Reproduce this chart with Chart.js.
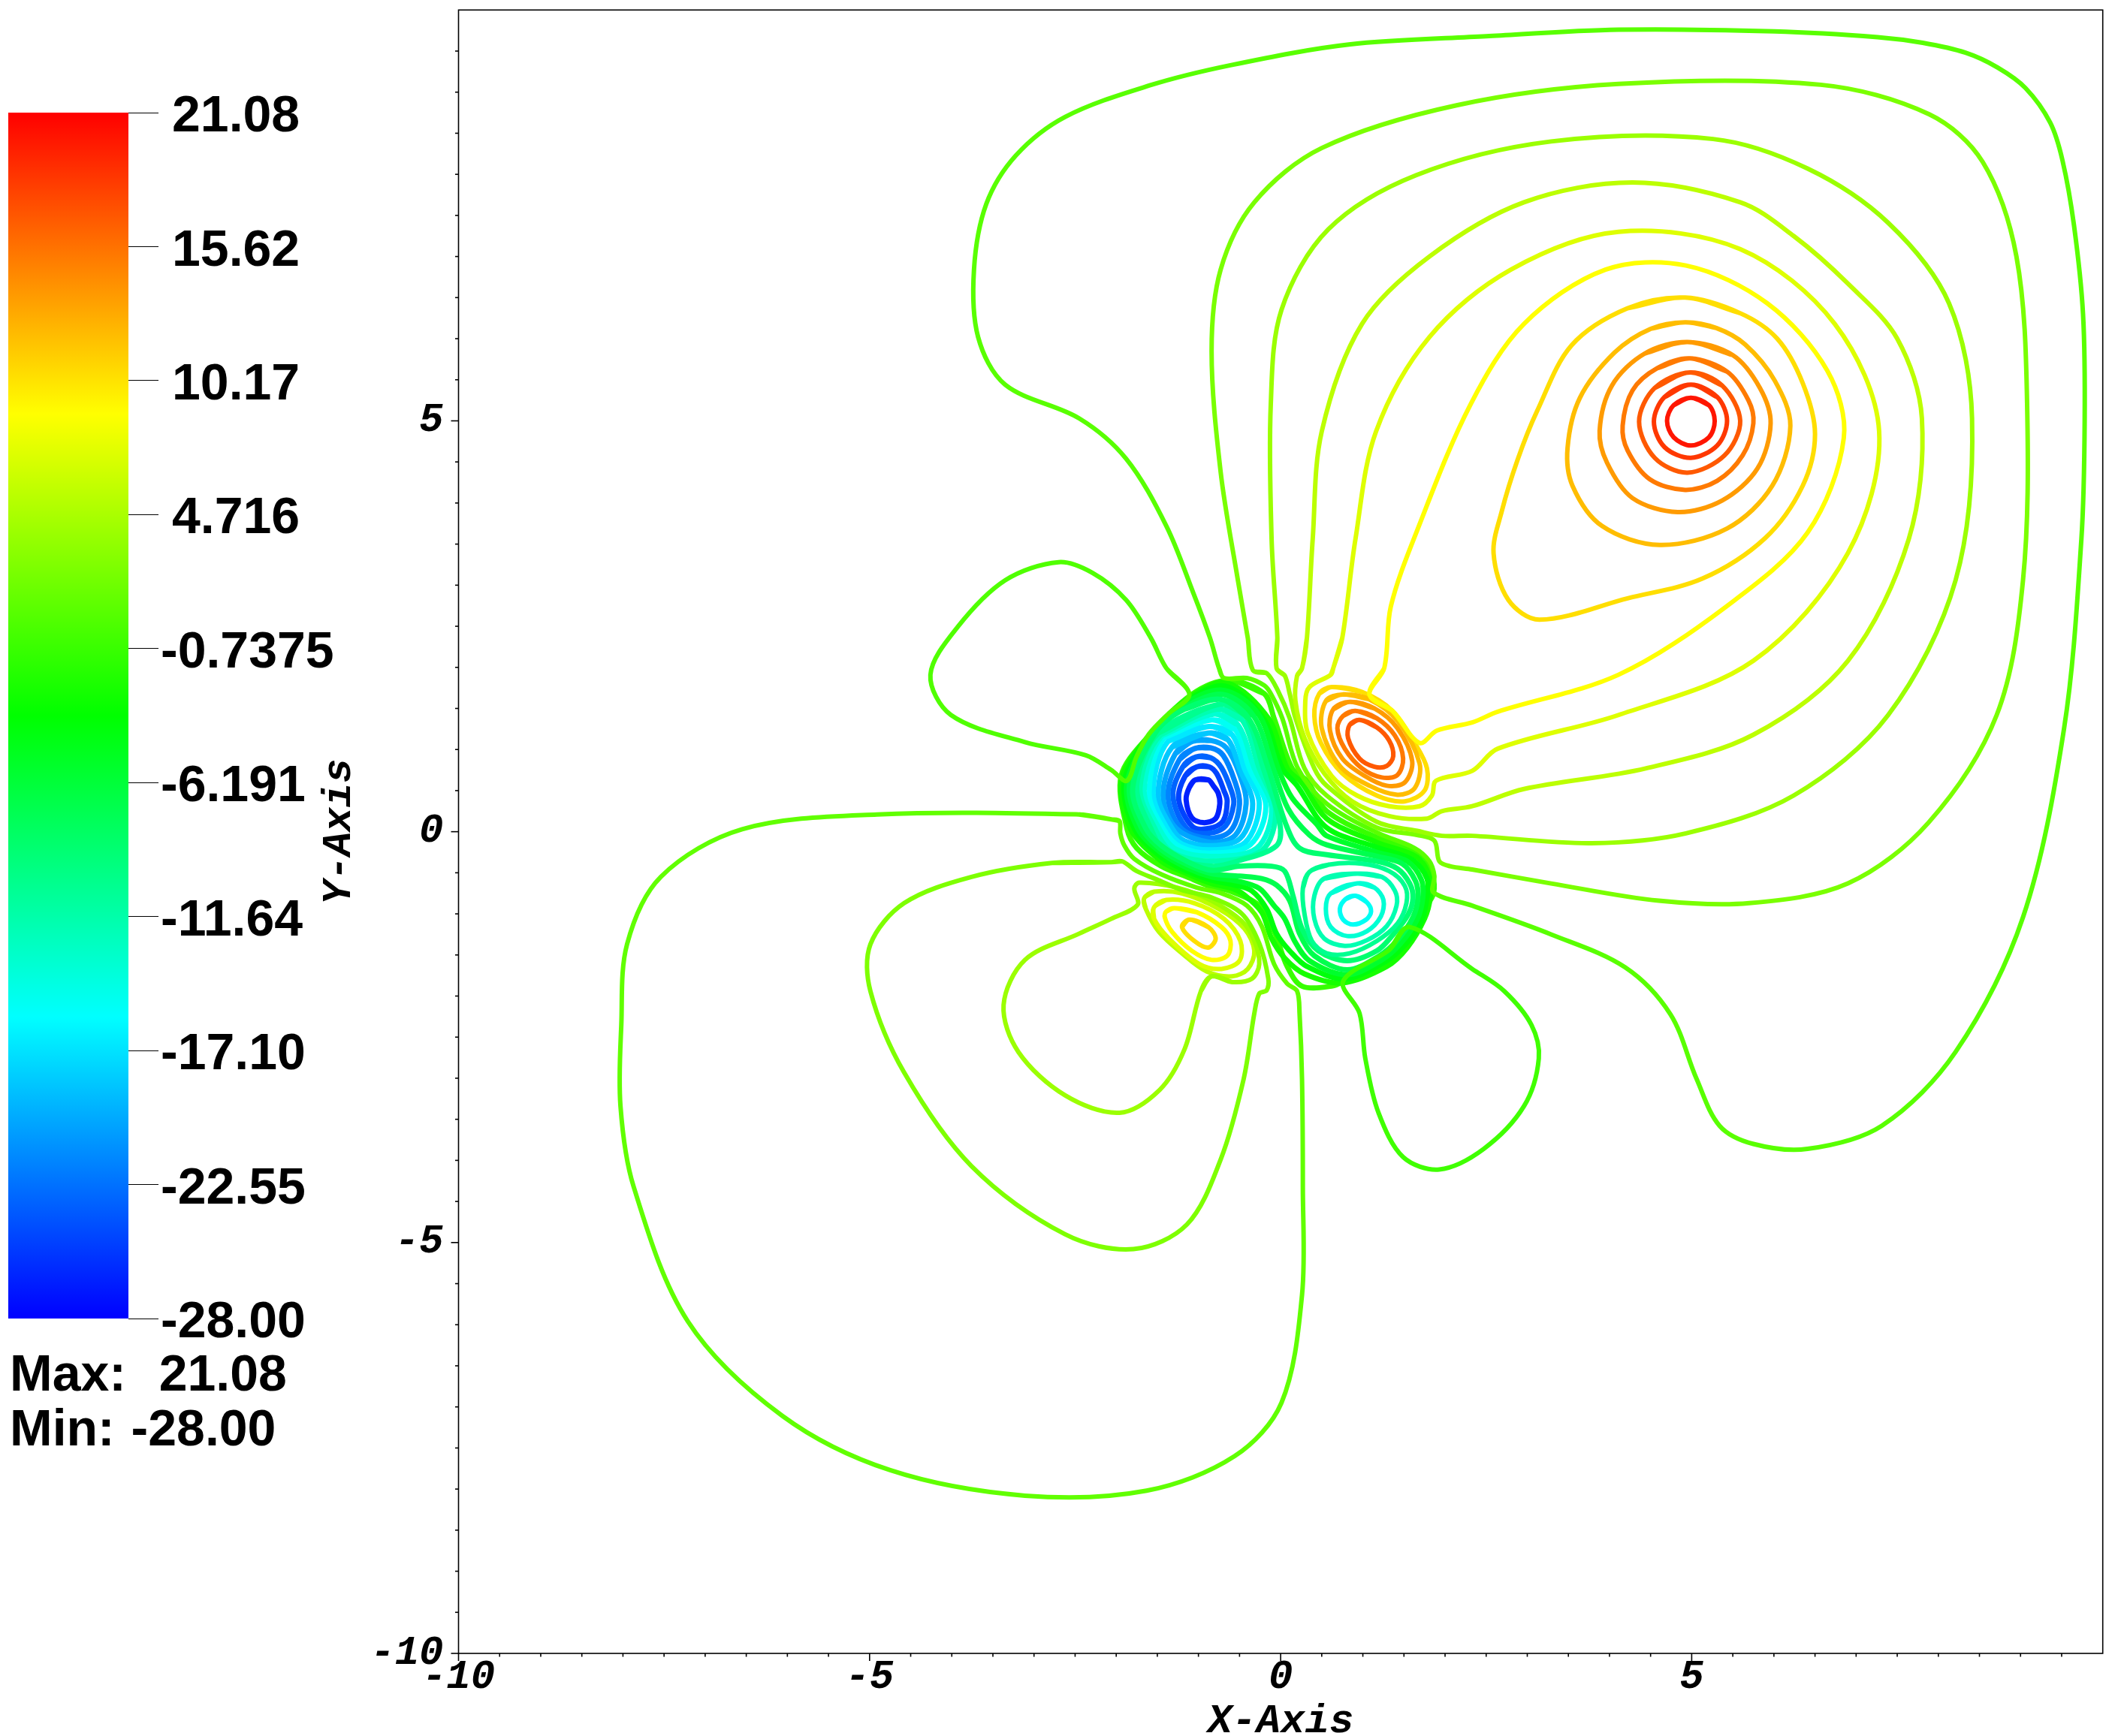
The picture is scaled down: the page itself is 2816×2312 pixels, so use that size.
<!DOCTYPE html>
<html>
<head>
<meta charset="utf-8">
<title>Contour plot</title>
<script src="https://cdn.jsdelivr.net/npm/chart.js@4/dist/chart.umd.min.js"></script>
<style>
html, body { margin: 0; padding: 0; background: #fff; }
#wrap { position: relative; width: 2816px; height: 2312px; overflow: hidden; }
canvas { position: absolute; left: 0; top: 0; }
</style>
</head>
<body>
<div id="wrap">
	<canvas id="mycanvas" width="2816" height="2312"></canvas>
	<canvas id="barcanvas" width="470" height="2312"></canvas>
</div>
<script>
// colour bar
var barValues = [21.08, 15.62, 10.17, 4.716, -0.7375, -6.191, -11.64, -17.10, -22.55, -28.00];
var barLabels = ["21.08", "15.62", "10.17", "4.716", "-0.7375", "-6.191", "-11.64", "-17.10", "-22.55", "-28.00"];
var barRange = [-28.00, 21.08];
var statsLines = ["Max:  21.08", "Min: -28.00"];

// axis ticks that carry a number
var labelledTicks = [-10, -5, 0, 5];

// contours around the charge at (5, 5)
var ring20 = [[4.99,5.28],[5.21,5.19],[5.28,5.00],[5.21,4.80],[4.99,4.70],[4.78,4.80],[4.70,5.00],[4.78,5.19]];
var ring18 = [[4.99,5.44],[5.31,5.29],[5.43,5.00],[5.31,4.70],[4.99,4.55],[4.67,4.68],[4.54,4.99],[4.67,5.29]];
var ring17 = [[4.98,5.59],[5.37,5.43],[5.59,5.00],[5.40,4.58],[4.95,4.37],[4.55,4.55],[4.36,4.99],[4.55,5.40]];
var ring15 = [[4.98,5.76],[5.43,5.60],[5.69,5.25],[5.75,4.97],[5.62,4.58],[5.31,4.27],[4.92,4.16],[4.49,4.29],[4.22,4.64],[4.16,4.94],[4.28,5.37],[4.58,5.64]];
var ring14 = [[4.95,5.96],[5.50,5.80],[5.83,5.40],[5.96,4.97],[5.80,4.42],[5.37,4.03],[4.83,3.89],[4.28,4.06],[3.97,4.49],[3.88,4.88],[4.03,5.43],[4.43,5.82]];
var ring12 = [[4.92,6.20],[5.30,6.13],[5.65,5.93],[6.01,5.49],[6.20,4.94],[5.98,4.21],[5.43,3.69],[4.61,3.49],[3.91,3.72],[3.55,4.21],[3.49,4.67],[3.64,5.28],[4.06,5.83],[4.50,6.12]];
var teardrop10 = [[4.92,6.50],[5.59,6.31],[6.04,6.00],[6.35,5.46],[6.50,4.84],[6.35,4.21],[5.89,3.57],[5.13,3.08],[4.22,2.84],[3.15,2.58],[2.77,2.82],[2.59,3.39],[2.69,3.90],[2.88,4.52],[3.12,5.12],[3.54,5.92],[4.22,6.37]];

// long contours that run in from the right and out through the top of the core
var line9 = [[1.08,1.67],[1.36,1.47],[1.69,1.08],[1.90,1.23],[2.33,1.33],[2.64,1.46],[4.11,1.91],[5.42,2.74],[6.41,3.64],[6.85,4.79],[6.65,5.61],[5.92,6.43],[4.93,6.89],[3.95,6.84],[2.96,6.18],[2.31,5.20],[1.65,3.64],[1.34,2.74],[1.26,1.99]];
var line7 = [[.64,1.99],[.61,1.91],[.35,1.76],[.30,1.59],[.33,1.20],[.62,.68],[.93,.44],[1.32,.31],[1.69,.31],[1.84,.44],[1.89,.62],[2.33,.74],[2.64,1.01],[4.11,1.42],[5.75,2.08],[6.90,3.39],[7.28,4.87],[6.74,6.18],[5.59,7.09],[4.11,7.30],[2.80,6.84],[1.81,6.02],[1.16,4.87],[.91,3.56],[.75,2.36]];
var line6 = [[.26,1.99],[.20,1.90],[.18,1.59],[.29,1.14],[.53,.71],[.87,.37],[1.32,.19],[1.78,.16],[1.96,.25],[2.33,.31],[2.96,.52],[4.44,.77],[5.75,1.18],[6.90,2.08],[7.64,3.56],[7.80,5.03],[7.50,6.00],[6.90,6.67],[6.24,7.25],[5.59,7.66],[4.28,7.90],[2.96,7.66],[1.81,7.00],[.99,6.18],[.50,4.87],[.39,3.56],[.32,2.36]];
var line4 = [[-.05,1.99],[.05,1.90],[.11,1.68],[.18,1.38],[.41,.77],[.56,.56],[1.17,.12],[1.66,.01],[1.96,-.05],[2.33,-.05],[3.78,-.14],[4.93,-.02],[6.24,.44],[7.39,1.42],[8.21,3.06],[8.41,5.03],[8.13,6.43],[7.39,7.41],[6.41,8.07],[5.26,8.43],[3.29,8.40],[1.65,7.99],[.58,7.33],[.01,6.35],[-.12,5.20],[-.11,3.56],[-.04,2.36]];
var line2 = [[-.34,1.97],[-.17,1.93],[-.03,1.71],[.11,1.38],[.29,.77],[.56,.44],[1.17,.05],[1.66,-.04],[1.87,-.11],[1.93,-.36],[2.06,-.42],[2.33,-.46],[3.29,-.63],[4.60,-.84],[5.70,-.87],[6.90,-.63],[7.88,.11],[8.71,1.42],[9.03,3.06],[9.08,5.20],[8.95,7.00],[8.54,8.15],[7.89,8.73],[6.57,9.09],[4.11,9.10],[2.14,8.84],[.50,8.32],[-.32,7.66],[-.73,6.84],[-.84,5.85],[-.73,4.38],[-.52,3.06],[-.40,2.36]];
var line1 = [[-.69,1.87],[-.41,1.87],[-.20,1.78],[-.12,1.68],[.02,1.38],[.21,.77],[.56,.34],[1.17,-.01],[1.63,-.20],[1.81,-.36],[1.87,-.54],[1.86,-.74],[2.33,-.90],[3.29,-1.25],[4.19,-1.65],[4.74,-2.22],[5.06,-3.01],[5.34,-3.58],[5.75,-3.80],[6.41,-3.86],[7.31,-3.58],[8.21,-2.68],[9.03,-1.04],[9.53,1.26],[9.74,3.56],[9.78,5.00],[9.76,6.30],[9.65,7.38],[9.51,8.17],[9.36,8.63],[9.06,9.05],[8.72,9.30],[8.33,9.48],[7.81,9.60],[7.26,9.67],[6.00,9.74],[4.11,9.76],[2.50,9.68],[.83,9.58],[-.60,9.33],[-1.60,9.08],[-2.62,8.70],[-3.22,8.23],[-3.58,7.64],[-3.73,6.84],[-3.68,6.02],[-3.35,5.44],[-2.45,5.03],[-1.88,4.54],[-1.39,3.72],[-1.06,2.90],[-.86,2.36],[-.75,1.99]];

// lobes outside the core
var lobeLeft = [[-1.11,1.67],[-1.39,1.99],[-1.58,2.36],[-1.88,2.82],[-2.29,3.15],[-2.70,3.28],[-3.35,3.06],[-3.93,2.49],[-4.26,1.91],[-4.01,1.42],[-3.11,1.09],[-2.37,.93],[-2.06,.75],[-1.87,.62],[-1.75,.92],[-1.60,1.19],[-1.36,1.44]];
var lobeRight = [[1.57,-1.16],[2.33,-1.67],[2.72,-1.94],[3.05,-2.35],[3.14,-2.76],[2.96,-3.34],[2.47,-3.86],[1.93,-4.11],[1.49,-3.96],[1.19,-3.42],[1.03,-2.76],[.96,-2.21],[.76,-1.82],[1.32,-1.44]];
var lobeBig = [[-2.06,.15],[-1.96,.13],[-1.95,-.02],[-1.90,-.17],[-1.78,-.33],[-1.45,-.52],[-1.02,-.68],[-.72,-.75],[-.41,-.90],[-.23,-1.15],[-.08,-1.61],[.08,-1.85],[.20,-1.94],[.23,-2.21],[.26,-3.01],[.27,-4.32],[.26,-5.64],[.01,-6.95],[-.56,-7.60],[-1.63,-8.02],[-3.11,-8.08],[-4.75,-7.77],[-6.06,-7.11],[-7.21,-5.96],[-7.87,-4.32],[-8.03,-3.34],[-8.02,-2.35],[-7.95,-1.37],[-7.54,-.55],[-6.55,.03],[-4.91,.21],[-2.45,.21]];
var lobeMiddle = [[-2.06,-.37],[-1.93,-.36],[-1.75,-.48],[-1.51,-.58],[-1.20,-.71],[-.84,-.80],[-.47,-1.00],[-.26,-1.36],[-.15,-1.79],[-.17,-1.93],[-.26,-1.97],[-.32,-2.21],[-.45,-3.01],[-.73,-3.99],[-1.14,-4.78],[-1.79,-5.08],[-2.62,-4.90],[-3.76,-4.07],[-4.58,-2.93],[-4.99,-1.94],[-4.99,-1.37],[-4.58,-.87],[-3.76,-.55],[-2.78,-.38]];
var lobeLower = [[-.84,-1.76],[-.59,-1.83],[-.35,-1.79],[-.26,-1.61],[-.32,-1.33],[-.47,-1.09],[-.84,-.84],[-1.26,-.68],[-1.72,-.62],[-1.78,-.69],[-1.74,-.89],[-2.06,-1.06],[-2.45,-1.24],[-3.11,-1.56],[-3.37,-2.11],[-3.19,-2.68],[-2.62,-3.21],[-1.96,-3.42],[-1.47,-3.14],[-1.17,-2.65],[-.97,-1.94]];

// positive pocket, upper right of the core
var upper17 = [[.96,1.36],[1.17,1.27],[1.32,1.11],[1.37,.92],[1.29,.80],[1.14,.79],[.96,.89],[.82,1.14],[.84,1.30]];
var upper15 = [[.91,1.47],[1.17,1.38],[1.39,1.17],[1.49,.89],[1.42,.69],[1.23,.66],[.99,.77],[.78,1.01],[.69,1.26],[.76,1.41]];
var upper14 = [[.84,1.58],[1.14,1.50],[1.42,1.26],[1.60,.86],[1.51,.60],[1.29,.56],[1.02,.68],[.75,.89],[.60,1.23],[.64,1.49]];
var upper12 = [[.75,1.67],[1.08,1.61],[1.42,1.35],[1.69,.83],[1.63,.53],[1.42,.45],[1.08,.56],[.72,.80],[.50,1.26],[.55,1.59]];
var upper10 = [[.62,1.76],[.99,1.70],[1.36,1.47],[1.63,1.08],[1.78,.77],[1.75,.50],[1.51,.37],[1.17,.44],[.75,.71],[.49,1.08],[.41,1.41],[.47,1.68]];

// positive pocket, lower left of the core
var lower10 = [[-1.11,-1.07],[-.88,-1.16],[-.79,-1.30],[-.88,-1.41],[-1.05,-1.33],[-1.20,-1.16]];
var lower9 = [[-1.29,-.93],[-1.02,-.98],[-.72,-1.16],[-.61,-1.33],[-.65,-1.51],[-.84,-1.56],[-1.08,-1.45],[-1.32,-1.22],[-1.41,-1.04],[-1.39,-.97]];
var lower7 = [[-1.54,-.92],[-1.39,-.83],[-1.05,-.87],[-.69,-1.06],[-.49,-1.33],[-.50,-1.57],[-.72,-1.67],[-.99,-1.61],[-1.36,-1.30],[-1.54,-1.06]];
var lower6 = [[-1.66,-.81],[-1.54,-.73],[-1.20,-.75],[-.75,-.94],[-.44,-1.18],[-.32,-1.45],[-.40,-1.67],[-.59,-1.76],[-.90,-1.70],[-1.20,-1.48],[-1.48,-1.22],[-1.64,-.94]];

// negative well, lower right of the core
var well15 = [[.91,-.78],[1.05,-.86],[1.10,-.97],[1.04,-1.07],[.88,-1.13],[.76,-1.07],[.72,-.94],[.79,-.82]];
var well14 = [[.93,-.63],[1.14,-.68],[1.25,-.83],[1.22,-1.03],[1.05,-1.21],[.81,-1.27],[.61,-1.16],[.55,-.94],[.61,-.75]];
var well12 = [[.93,-.51],[1.23,-.55],[1.39,-.72],[1.41,-.90],[1.29,-1.15],[1.05,-1.32],[.78,-1.39],[.53,-1.30],[.41,-1.06],[.41,-.78],[.53,-.57]];
var well10 = [[.35,-.49],[.59,-.40],[.99,-.39],[1.32,-.48],[1.51,-.66],[1.53,-.87],[1.42,-1.12],[1.17,-1.33],[.84,-1.48],[.56,-1.48],[.38,-1.33],[.29,-1.00],[.27,-.69]];

// contours that wrap both wells
var wrap9 = [[-.72,1.61],[-.39,1.38],[-.15,.77],[.06,.10],[.23,-.20],[.56,-.28],[1.17,-.36],[1.42,-.45],[1.57,-.63],[1.61,-.81],[1.55,-1.01],[1.37,-1.25],[1.17,-1.45],[.81,-1.57],[.46,-1.45],[.26,-1.18],[.15,-.78],[.05,-.48],[-.11,-.42],[-.50,-.42],[-.84,-.47],[-1.14,-.36],[-1.45,-.17],[-1.64,.04],[-1.80,.53],[-1.52,1.21],[-1.17,1.49]];
var wrap7 = [[-.70,1.67],[-.33,1.41],[-.09,.77],[.09,.28],[.35,-.04],[.56,-.16],[1.17,-.30],[1.48,-.39],[1.64,-.60],[1.67,-.80],[1.61,-1.04],[1.42,-1.32],[1.20,-1.51],[.81,-1.68],[.41,-1.51],[.23,-1.24],[.11,-.84],[-.05,-.65],[-.23,-.57],[-.50,-.54],[-.84,-.51],[-1.14,-.40],[-1.45,-.22],[-1.69,.04],[-1.84,.56],[-1.54,1.20],[-1.14,1.53]];
var wrap6 = [[-.69,1.72],[-.27,1.43],[-.03,.77],[.14,.41],[.44,.09],[.56,-.05],[1.17,-.25],[1.54,-.36],[1.71,-.58],[1.73,-.80],[1.66,-1.07],[1.46,-1.36],[1.23,-1.56],[.81,-1.74],[.35,-1.57],[.17,-1.33],[.05,-1.06],[-.08,-.90],[-.26,-.69],[-.53,-.60],[-.84,-.55],[-1.14,-.44],[-1.45,-.26],[-1.74,.04],[-1.87,.59],[-1.56,1.19],[-1.13,1.58]];
var wrap4 = [[-.67,1.77],[-.21,1.38],[.02,.77],[.20,.56],[.56,.05],[1.17,-.19],[1.60,-.34],[1.78,-.57],[1.78,-.80],[1.71,-1.09],[1.51,-1.38],[1.26,-1.59],[.78,-1.79],[.32,-1.64],[.11,-1.45],[-.05,-1.24],[-.17,-.94],[-.35,-.72],[-.56,-.65],[-.84,-.59],[-1.14,-.48],[-1.45,-.31],[-1.78,.04],[-1.90,.62],[-1.58,1.18],[-1.11,1.61]];
var wrap2 = [[-.65,1.81],[-.15,1.38],[.08,.77],[.26,.59],[.56,.16],[1.17,-.13],[1.66,-.31],[1.81,-.55],[1.82,-.80],[1.75,-1.06],[1.54,-1.41],[1.29,-1.64],[.75,-1.84],[.29,-1.73],[.05,-1.54],[-.11,-1.30],[-.23,-.98],[-.44,-.77],[-.59,-.69],[-.84,-.63],[-1.14,-.51],[-1.45,-.36],[-1.83,.04],[-1.93,.65],[-1.60,1.17],[-1.10,1.64]];
var wrap1 = [[-.64,1.84],[-.20,1.68],[-.08,1.38],[.14,.77],[.32,.62],[.56,.25],[1.17,-.07],[1.72,-.28],[1.85,-.54],[1.86,-.75],[1.78,-.89],[1.57,-1.16],[1.32,-1.44],[.76,-1.82],[.62,-1.88],[.26,-1.88],[.08,-1.64],[-.08,-1.21],[-.26,-.90],[-.62,-.72],[-.84,-.67],[-1.14,-.55],[-1.45,-.42],[-1.75,-.20],[-1.87,.04],[-1.94,.68],[-1.61,1.16],[-1.08,1.67]];

// rings of the deep well, upper left of the core
var deep10 = [[-.75,1.55],[-.44,1.43],[-.21,.77],[-.01,.10],[-.05,-.17],[-.53,-.36],[-.84,-.42],[-1.37,-.29],[-1.58,.04],[-1.75,.56],[-1.49,1.20]];
var deep12 = [[-.78,1.49],[-.47,1.36],[-.26,.77],[-.06,.25],[-.23,-.23],[-.84,-.36],[-1.32,-.25],[-1.53,.04],[-1.71,.53],[-1.46,1.18]];
var deep14 = [[-.81,1.43],[-.52,1.30],[-.32,.77],[-.11,.28],[-.29,-.20],[-.84,-.30],[-1.28,-.21],[-1.48,.04],[-1.66,.50],[-1.44,1.17]];
var deep15 = [[-.84,1.36],[-.55,1.24],[-.38,.77],[-.18,.31],[-.37,-.16],[-.84,-.26],[-1.23,-.18],[-1.43,.04],[-1.60,.47],[-1.41,1.15]];
var deep17 = [[-.87,1.28],[-.59,1.18],[-.44,.77],[-.26,.34],[-.43,-.13],[-.84,-.22],[-1.20,-.15],[-1.38,.04],[-1.55,.47],[-1.37,1.10]];
var deep18 = [[-.88,1.20],[-.64,1.12],[-.50,.77],[-.34,.34],[-.49,-.08],[-.84,-.17],[-1.17,-.11],[-1.32,.04],[-1.49,.44],[-1.32,1.03]];
var deep20 = [[-1.07,1.10],[-.85,1.11],[-.66,1.02],[-.50,.70],[-.42,.34],[-.55,-.04],[-.85,-.13],[-1.27,.04],[-1.43,.44],[-1.28,.95]];
var deep22 = [[-1.05,1.01],[-.85,1.02],[-.70,.93],[-.56,.62],[-.50,.34],[-.61,.01],[-.87,-.08],[-1.21,.04],[-1.37,.44],[-1.23,.88]];
var deep23 = [[-1.03,.91],[-.85,.90],[-.72,.78],[-.60,.50],[-.57,.34],[-.67,.07],[-.88,-.02],[-1.14,.04],[-1.31,.44],[-1.19,.79]];
var deep25 = [[-1.02,.79],[-.87,.79],[-.78,.71],[-.69,.50],[-.65,.37],[-.70,.13],[-.87,.04],[-1.07,.06],[-1.24,.39],[-1.16,.68]];
var deep26 = [[-1.04,.63],[-.88,.63],[-.82,.56],[-.76,.47],[-.74,.34],[-.79,.16],[-.94,.11],[-1.08,.17],[-1.15,.39],[-1.11,.54]];

var contourLines = [
	ring20, ring18, ring17, ring15, ring14, ring12, teardrop10,
	line9, line7, line6, line4, line2, line1,
	lobeLeft, lobeRight, lobeBig, lobeMiddle, lobeLower,
	upper17, upper15, upper14, upper12, upper10,
	lower10, lower9, lower7, lower6,
	well15, well14, well12, well10,
	wrap9, wrap7, wrap6, wrap4, wrap2, wrap1,
	deep10, deep12, deep14, deep15, deep17, deep18, deep20, deep22, deep23, deep25, deep26
];
var contourLevels = [
	20, 18.4, 16.8, 15.2, 13.6, 12, 10.4,
	8.8, 7.2, 5.6, 4, 2.4, 0.8,
	0.4, -0.4, 1.2, 2.6, 4,
	16.8, 15.2, 13.6, 12, 10.4,
	10.4, 8.8, 7.2, 5.6,
	-15.2, -13.6, -12, -10.4,
	-8.8, -7.2, -5.6, -4, -2.4, -0.8,
	-10.4, -12, -13.6, -15.2, -16.8, -18.4, -20, -21.6, -23.2, -24.8, -26.4
];

// rainbow, same stops as the colour bar
function levelColor(v) {
	var t = (barRange[1] - v) / (barRange[1] - barRange[0]) * 4;
	var k = Math.min(Math.floor(t), 3);
	var f = Math.round((t - k) * 255);
	if (k == 0) return "rgb(255," + f + ",0)";
	if (k == 1) return "rgb(" + (255 - f) + ",255,0)";
	if (k == 2) return "rgb(0,255," + f + ")";
	return "rgb(0," + (255 - f) + ",255)";
}

var datasets = [];
for (var i = 0; i < contourLines.length; i++) {
	var line = contourLines[i];
	// every contour is a closed loop, overlap the ends so the spline has no kink at the join
	var pts = [line[line.length - 1]].concat(line, [line[0], line[1]]);
	datasets.push({
		label: "level " + contourLevels[i],
		data: pts.map(function(p) { return { x: p[0], y: p[1] }; }),
		showLine: true,
		fill: false,
		tension: 0.33,
		pointRadius: 0,
		// the packed lines of the core nearly touch in the picture
		borderWidth: i >= 31 ? 7 : 6,
		borderColor: levelColor(contourLevels[i]),
		borderJoinStyle: "round",
		borderCapStyle: "butt"
	});
}

var axisFont = { family: "'Liberation Mono'", size: 54, weight: "bold", style: "italic" };

function tickText(v) {
	return labelledTicks.indexOf(v) >= 0 ? String(v) : "";
}

// frame and the two tick lengths
var framePlugin = {
	id: "frame",
	afterDraw: function(chart) {
		var c = chart.ctx, a = chart.chartArea;
		c.save();
		c.strokeStyle = "#000";
		c.lineWidth = 1.6;
		c.strokeRect(a.left, a.top, a.right - a.left, a.bottom - a.top);
		chart.scales.x.ticks.forEach(function(t) {
			if (t.value == 10) return;
			var px = chart.scales.x.getPixelForValue(t.value);
			var len = labelledTicks.indexOf(t.value) >= 0 ? 10 : 4.5;
			c.beginPath(); c.moveTo(px, a.bottom); c.lineTo(px, a.bottom + len); c.stroke();
		});
		chart.scales.y.ticks.forEach(function(t) {
			if (t.value == 10) return;
			var py = chart.scales.y.getPixelForValue(t.value);
			var len = labelledTicks.indexOf(t.value) >= 0 ? 10 : 4.5;
			c.beginPath(); c.moveTo(a.left, py); c.lineTo(a.left - len, py); c.stroke();
		});
		c.restore();
	}
};

new Chart(document.getElementById("mycanvas"), {
	type: "scatter",
	data: { datasets: datasets },
	plugins: [framePlugin],
	options: {
		responsive: false,
		animation: false,
		devicePixelRatio: 1,
		layout: { padding: { left: 0, top: 13.3, right: 16.3, bottom: 0 } },
		plugins: { legend: { display: false }, tooltip: { enabled: false } },
		scales: {
			x: {
				type: "linear", min: -10, max: 10,
				grid: { display: false },
				border: { display: false },
				ticks: { stepSize: 0.5, autoSkip: false, maxRotation: 0, padding: -8, color: "#000", font: axisFont, callback: tickText },
				title: { display: true, text: "X-Axis", color: "#000", padding: 0, font: Object.assign({}, axisFont, { lineHeight: 0.7 }) },
				afterFit: function(s) { s.height = 110; s.paddingLeft = 0; s.paddingRight = 0; }
			},
			y: {
				type: "linear", min: -10, max: 10,
				grid: { display: false },
				border: { display: false },
				ticks: { stepSize: 0.5, autoSkip: false, padding: 12, color: "#000", font: axisFont, callback: tickText },
				title: { display: true, text: "Y-Axis", color: "#000", padding: { top: 420, bottom: 0 }, font: axisFont },
				afterFit: function(s) { s.width = 610.5; s.paddingTop = 0; s.paddingBottom = 0; }
			}
		}
	}
});

// colour bar is its own small floating-bar chart
var barFont = "bold 68px 'Liberation Sans'";
var barTextPlugin = {
	id: "barText",
	afterDraw: function(chart) {
		var c = chart.ctx, s = chart.scales.y;
		c.save();
		c.fillStyle = "#000";
		c.font = barFont;
		c.textBaseline = "alphabetic";
		barValues.forEach(function(v, i) {
			c.fillText(barLabels[i], barLabels[i].charAt(0) == "-" ? 214 : 229, s.getPixelForValue(v) + 25);
		});
		c.wordSpacing = "3px";
		c.fillText(statsLines[0], 13, 1852);
		c.fillText(statsLines[1], 13, 1925);
		c.restore();
	}
};

new Chart(document.getElementById("barcanvas"), {
	type: "bar",
	data: {
		labels: [""],
		datasets: [{
			data: [barRange],
			barPercentage: 1,
			categoryPercentage: 1,
			borderWidth: 0,
			backgroundColor: function(ctx) {
				var a = ctx.chart.chartArea;
				if (!a) return "#f00";
				var g = ctx.chart.ctx.createLinearGradient(0, a.top, 0, a.bottom);
				["#ff0000", "#ffff00", "#00ff00", "#00ffff", "#0000ff"].forEach(function(col, i) { g.addColorStop(i / 4, col); });
				return g;
			}
		}]
	},
	plugins: [barTextPlugin],
	options: {
		responsive: false,
		animation: false,
		devicePixelRatio: 1,
		layout: { padding: { left: 11, top: 150, right: 0, bottom: 556 } },
		plugins: { legend: { display: false }, tooltip: { enabled: false } },
		scales: {
			x: { display: false },
			y: {
				position: "right",
				min: barRange[0], max: barRange[1],
				border: { display: false },
				grid: { drawOnChartArea: false, tickLength: 40, tickColor: "#000", tickWidth: 1 },
				ticks: { display: false },
				afterBuildTicks: function(s) { s.ticks = barValues.map(function(v) { return { value: v }; }); },
				afterFit: function(s) { s.width = 299; }
			}
		}
	}
});
</script>
</body>
</html>
